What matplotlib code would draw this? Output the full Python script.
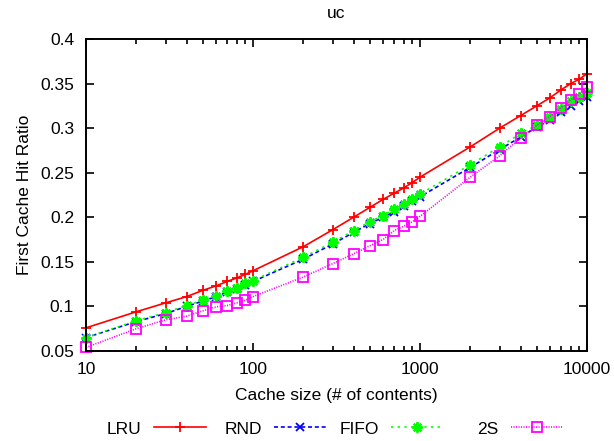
import matplotlib
matplotlib.use("Agg")
import matplotlib.pyplot as plt
from matplotlib.ticker import FixedLocator, FixedFormatter, NullFormatter

plt.rcParams['font.family'] = ['Liberation Sans', 'DejaVu Sans']
plt.rcParams['lines.scale_dashes'] = False

# ---------------- data ----------------
title = "uc"
xlabel = "Cache size (# of contents)"
ylabel = "First Cache Hit Ratio"

cache_size = [10, 20, 30, 40, 50, 60, 70, 80, 90, 100,
              200, 300, 400, 500, 600, 700, 800, 900, 1000,
              2000, 3000, 4000, 5000, 6000, 7000, 8000, 9000, 10000]

lru = [0.076, 0.094, 0.104, 0.111, 0.118, 0.123, 0.128, 0.132, 0.136, 0.140,
       0.167, 0.186, 0.200, 0.211, 0.220, 0.227, 0.233, 0.239, 0.245,
       0.279, 0.300, 0.314, 0.325, 0.334, 0.343, 0.350, 0.355, 0.361]

rnd = [0.065, 0.083, 0.092, 0.100, 0.106, 0.111, 0.116, 0.120, 0.124, 0.128,
       0.153, 0.170, 0.183, 0.193, 0.200, 0.206, 0.213, 0.218, 0.223,
       0.256, 0.276, 0.290, 0.301, 0.309, 0.318, 0.325, 0.331, 0.335]

fifo = [0.065, 0.084, 0.093, 0.101, 0.107, 0.112, 0.117, 0.121, 0.126, 0.129,
        0.155, 0.172, 0.185, 0.195, 0.202, 0.209, 0.215, 0.221, 0.226,
        0.259, 0.279, 0.294, 0.303, 0.313, 0.322, 0.330, 0.335, 0.339]

two_s = [0.054, 0.075, 0.085, 0.089, 0.095, 0.0995, 0.101, 0.104, 0.107, 0.111,
         0.133, 0.148, 0.159, 0.168, 0.175, 0.185, 0.190, 0.195, 0.201,
         0.245, 0.269, 0.289, 0.303, 0.313, 0.323, 0.332, 0.338, 0.346]

series_names = ["LRU", "RND", "FIFO", "2S"]

x_ticks = [10, 100, 1000, 10000]
x_tick_labels = ["10", "100", "1000", "10000"]
y_ticks = [0.05, 0.1, 0.15, 0.2, 0.25, 0.3, 0.35, 0.4]
y_tick_labels = ["0.05", "0.1", "0.15", "0.2", "0.25", "0.3", "0.35", "0.4"]

# ---------------- figure ----------------
W, H = 614, 441
fig = plt.figure(figsize=(W / 100, H / 100), dpi=100)
ax = fig.add_axes([86 / W, 1 - 351 / H, (587 - 86) / W, (351 - 39) / H])

fs = 12.5
lw = 1.2
styles = [
    dict(color="#ff0000", linestyle="-", marker="+", markersize=7.5, markeredgewidth=1.3),
    dict(color="#0000ff", dashes=(2.9, 2.0), marker="x", markersize=5.5, markeredgewidth=1.3),
    dict(color="#00ff00", dashes=(1.6, 3.2), marker=(8, 2, 0), markersize=7.5, markeredgewidth=1.5),
    dict(color="#ff00ff", dashes=(0.8, 1.0), marker="s", markersize=7, markeredgewidth=1.3,
         markerfacecolor="none"),
]
all_series = [lru, rnd, fifo, two_s]
handles = []
for name, vals, st in zip(series_names, all_series, styles):
    h, = ax.plot(cache_size, vals, linewidth=lw, label=name, clip_on=False, **st)
    handles.append(h)

ax.set_xscale("log")
ax.set_xlim(10, 10000)
ax.set_ylim(0.05, 0.4)

ax.xaxis.set_major_locator(FixedLocator(x_ticks))
ax.xaxis.set_major_formatter(FixedFormatter(x_tick_labels))
ax.xaxis.set_minor_formatter(NullFormatter())
ax.set_yticks(y_ticks)
ax.set_yticklabels(y_tick_labels)

for s in ax.spines.values():
    s.set_linewidth(1.4)

ax.tick_params(which="both", direction="in", top=True, right=True, width=1.2, labelsize=fs)
ax.tick_params(which="major", length=6)
ax.tick_params(which="minor", length=3.6)
ax.tick_params(axis="y", which="major", pad=8.6)
ax.tick_params(axis="x", which="major", pad=8.0)

ax.set_title(title, fontsize=fs, pad=14.9)
ax.set_xlabel(xlabel, fontsize=fs)
ax.set_ylabel(ylabel, fontsize=fs)
ax.xaxis.set_label_coords(0.5, (351 - 388) / 312)
ax.yaxis.set_label_coords((32 - 86) / 501, 0.5)

# key: right-justified text, then sample, in fixed-width columns
line_right_px = [206, 326, 443, 563]
for h, name, xr in zip(handles, series_names, line_right_px):
    fig.legend([h], [name], loc="center right", bbox_to_anchor=(xr / W, 1 - 429 / H),
               markerfirst=False, frameon=False, borderpad=0, borderaxespad=0,
               handlelength=3.0, handletextpad=0.7, numpoints=1, fontsize=fs)

fig.savefig("out.png", dpi=100)
